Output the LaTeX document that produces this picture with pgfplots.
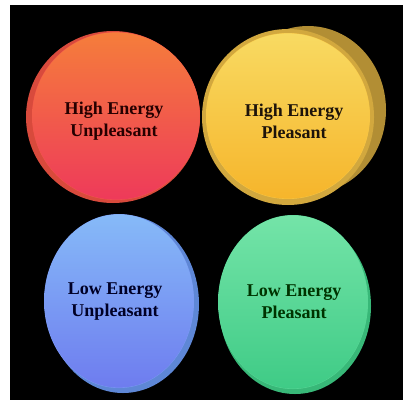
\documentclass[border=0pt]{standalone}
\usepackage{pgfplots}
\pgfplotsset{compat=1.18}
\usepackage{fontspec}
\setmainfont{Liberation Serif}
\definecolor{redback}{HTML}{D84A3C}
\definecolor{redtop}{HTML}{F57D3B}
\definecolor{redmid}{HTML}{F3574A}
\definecolor{redbot}{HTML}{EE3A5A}
\definecolor{yelback}{HTML}{D2A83E}
\definecolor{yeltop}{HTML}{F8DA62}
\definecolor{yelbot}{HTML}{F6B52B}
\definecolor{bluback}{HTML}{5E87D6}
\definecolor{blutop}{HTML}{86BAF8}
\definecolor{blubot}{HTML}{6E7CEF}
\definecolor{grnback}{HTML}{38B878}
\definecolor{grntop}{HTML}{74E4A8}
\definecolor{grnbot}{HTML}{3FCB86}
\pgfdeclareplotmark{redball}{%
  \fill[redback, draw=none] (-3pt,-1pt) ellipse [x radius=87pt, y radius=86pt];
  \fill[redmid, draw=none] (0pt,0pt) ellipse [x radius=84pt, y radius=84pt];
  \shade[draw=none, top color=redtop, middle color=redmid, bottom color=redbot] (0pt,0pt) ellipse [x radius=83.6pt, y radius=83.6pt];}
\pgfdeclareplotmark{yelball}{%
  \fill[yelback, draw=none] (0pt,-1pt) ellipse [x radius=86pt, y radius=88pt];
  \fill[yelback, draw=none, opacity=0.85] (20pt,6pt) ellipse [x radius=78pt, y radius=84pt];
  \fill[yeltop!50!yelbot, draw=none] (0pt,0pt) ellipse [x radius=82pt, y radius=83pt];
  \shade[draw=none, top color=yeltop, bottom color=yelbot] (0pt,0pt) ellipse [x radius=81.6pt, y radius=82.6pt];}
\pgfdeclareplotmark{bluball}{%
  \fill[bluback, draw=none] (4pt,-3pt) ellipse [x radius=76pt, y radius=89pt];
  \fill[blutop!50!blubot, draw=none] (0pt,0pt) ellipse [x radius=75pt, y radius=87pt];
  \shade[draw=none, top color=blutop, bottom color=blubot] (0pt,0pt) ellipse [x radius=74.6pt, y radius=86.6pt];}
\pgfdeclareplotmark{grnball}{%
  \fill[grnback, draw=none] (2pt,-4pt) ellipse [x radius=76pt, y radius=88pt];
  \fill[grntop!50!grnbot, draw=none] (0pt,0pt) ellipse [x radius=75pt, y radius=87pt];
  \shade[draw=none, top color=grntop, bottom color=grnbot] (0pt,0pt) ellipse [x radius=74.6pt, y radius=86.6pt];}
\begin{document}
\begin{tikzpicture}
\begin{axis}[width=403pt, height=400pt, scale only axis, set layers,
  xmin=0, xmax=403, ymin=0, ymax=400, y dir=reverse,
  axis lines=none, clip=false]
\addplot[fill=white, draw=none] coordinates {(0,0) (403,0) (403,400) (0,400)} -- cycle;
\addplot[fill=black, draw=none] coordinates {(10,5) (403,5) (403,400) (10,400)} -- cycle;
\addplot[only marks, mark=redball] coordinates {(116,116)};
\addplot[only marks, mark=yelball] coordinates {(288,116)};
\addplot[only marks, mark=bluball] coordinates {(119,301)};
\addplot[only marks, mark=grnball] coordinates {(293,302)};
\begin{pgfonlayer}{axis foreground}
\node[align=center, font=\fontsize{18}{22}\selectfont\bfseries, text=black!85!red] at (axis cs:114,121) {High Energy\\Unpleasant};
\node[align=center, font=\fontsize{18}{22}\selectfont\bfseries, text=black!85!brown] at (axis cs:294,121) {High Energy\\Pleasant};
\node[align=center, font=\fontsize{18}{22}\selectfont\bfseries, text=black!85!blue] at (axis cs:115,302) {Low Energy\\Unpleasant};
\node[align=center, font=\fontsize{18}{22}\selectfont\bfseries, text=black!80!green] at (axis cs:294,302) {Low Energy\\Pleasant};
\end{pgfonlayer}
\end{axis}
\end{tikzpicture}
\end{document}
